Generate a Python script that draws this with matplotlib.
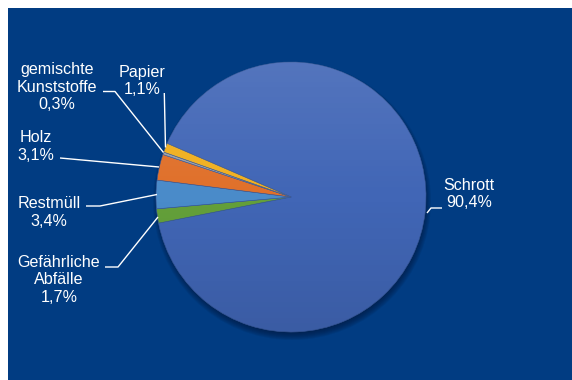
import matplotlib
matplotlib.use("Agg")
import matplotlib.pyplot as plt
import numpy as np
from matplotlib.patches import Rectangle, Circle

categories = ["Schrott", "Gefährliche\nAbfälle", "Restmüll", "Holz", "gemischte\nKunststoffe", "Papier"]
values = [90.4, 1.7, 3.4, 3.1, 0.3, 1.1]
value_labels = ["90,4%", "1,7%", "3,4%", "3,1%", "0,3%", "1,1%"]
colors = ["#4166b6", "#64a03a", "#4a8bc9", "#e0702a", "#9aa1ab", "#f1b020"]

W, H = 572, 380
fig = plt.figure(figsize=(W / 100, H / 100), dpi=100, facecolor="white")
ax = fig.add_axes([0, 0, 1, 1])
ax.set_xlim(0, W)
ax.set_ylim(0, H)
ax.axis("off")

def Y(y):
    return H - y

ax.add_patch(Rectangle((8, 0), W - 8, H - 8, facecolor="#013c82", edgecolor="none", zorder=0))

cx, cy, R = 291, Y(197), 135
# soft shadow
for i in range(8):
    ax.add_patch(Circle((cx + 1, cy - 4), R + 4 - i, facecolor="#001a40", edgecolor="none",
                        alpha=0.12, zorder=1))

wedges, _ = ax.pie(values, colors=colors, startangle=156.6, counterclock=False,
                   radius=R, center=(cx, cy), frame=True,
                   wedgeprops=dict(linewidth=0.4, edgecolor="#3a5a9a", zorder=2))
ax.set_xlim(0, W)
ax.set_ylim(0, H)
ax.set_aspect("equal")
ax.axis("off")

# subtle vertical gradient over the pie
grad = np.zeros((100, 2, 4))
t = np.linspace(0, 1, 100)[:, None]
grad[..., :3] = np.where(t[..., None] < 0.5, 1.0, 0.0)
grad[..., 3] = (np.abs(t - 0.5) * 2 * 0.10)
img = ax.imshow(grad, extent=(cx - R, cx + R, cy - R, cy + R), origin="upper",
                aspect="auto", zorder=3, interpolation="bilinear")
img.set_clip_path(Circle((cx, cy), R, transform=ax.transData))
ax.set_xlim(0, W)
ax.set_ylim(0, H)

label_pos = [(469, 194), (59, 280), (49, 212.5), (36, 146.5), (57, 87), (142, 81)]
leaders = [
    [(427, 213), (431, 208), (442, 208)],
    [(105, 267), (118, 267), (158, 217)],
    [(86, 206), (100, 206), (157, 194.5)],
    [(60, 158), (159, 167)],
    [(103, 91.5), (115, 91.5), (163.5, 152.5)],
    [(164.3, 93), (165.5, 147.5)],
]

for cat, vl, (tx, ty), pts in zip(categories, value_labels, label_pos, leaders):
    ax.text(tx, Y(ty), f"{cat}\n{vl}", color="white", fontsize=11.6,
            family=["Liberation Sans", "DejaVu Sans"], ha="center", va="center",
            multialignment="center", linespacing=1.22, zorder=5)
    xs = [p[0] for p in pts]
    ys = [Y(p[1]) for p in pts]
    ax.plot(xs, ys, color="white", lw=1.0, zorder=4, solid_capstyle="butt")

fig.savefig("out.png", dpi=100, facecolor="white")
